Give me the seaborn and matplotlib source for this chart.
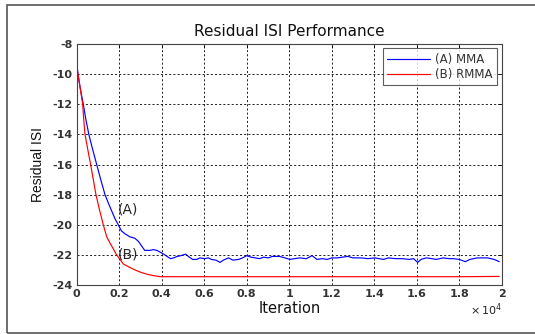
import matplotlib
matplotlib.use("Agg")
import matplotlib.pyplot as plt
import seaborn as sns
import pandas as pd
from matplotlib.ticker import FuncFormatter
from matplotlib.patches import Rectangle

# ---- data ----
iter_mma = [0, 60, 150, 310, 430, 570, 750, 940, 1130, 1330, 1500, 1650, 1800,
            1955, 2100, 2270, 2500, 2740, 2900, 3050, 3200, 3450, 3600,
            3770, 3900, 4090, 4250, 4410, 4550, 4730, 4900, 5130, 5250, 5450, 5650,
            5800, 6010, 6200, 6330, 6550, 6740, 6900, 7140, 7350, 7620, 7800, 8000,
            8200, 8400, 8600, 8800, 9000, 9220, 9540, 9800, 10020, 10250, 10500,
            10800, 11070, 11300, 11550, 11790, 12000, 12270, 12500, 12750, 13000,
            13390, 13700, 14030, 14430, 14670, 15000, 15310, 15630, 15850, 16040,
            16200, 16440, 16700, 16920, 17240, 17500, 17720, 18000, 18280, 18500,
            18840, 19100, 19320, 19640, 19880]
isi_mma = [-9.2, -10.0, -10.8, -12.0, -13.0, -14.0, -15.0, -16.0, -17.0, -18.0,
           -18.6, -19.1, -19.6, -20.0, -20.4, -20.6, -20.8, -20.9, -21.1, -21.4,
           -21.7, -21.7, -21.65, -21.7, -21.8, -21.95, -22.1, -22.25, -22.2,
           -22.1, -22.05, -21.95, -22.1, -22.3, -22.3, -22.2, -22.25, -22.2, -22.3,
           -22.35, -22.5, -22.35, -22.2, -22.35, -22.3, -22.2, -22.05, -22.15, -22.2,
           -22.25, -22.15, -22.2, -22.1, -22.1, -22.2, -22.3, -22.25, -22.2, -22.25,
           -22.05, -22.3, -22.25, -22.3, -22.2, -22.2, -22.15, -22.1, -22.2, -22.2,
           -22.25, -22.2, -22.3, -22.2, -22.25, -22.25, -22.3, -22.25, -22.5, -22.3,
           -22.2, -22.25, -22.3, -22.2, -22.25, -22.25, -22.3, -22.45, -22.3, -22.2,
           -22.2, -22.2, -22.3, -22.45]

iter_rmma = [0, 60, 150, 280, 330, 390, 520, 655, 780, 905, 1070, 1250, 1410, 1600,
             1880, 2190, 2450, 2740, 3000, 3350, 3700, 3950, 4500, 6000, 8000,
             10000, 12000, 14000, 16000, 18000, 19880]
isi_rmma = [-9.5, -10.0, -10.8, -12.0, -13.0, -14.0, -15.0, -16.0, -17.0, -18.0,
            -19.0, -20.0, -20.8, -21.3, -22.0, -22.6, -22.8, -23.0, -23.15, -23.3,
            -23.4, -23.45, -23.45, -23.45, -23.45, -23.45, -23.45, -23.45, -23.45,
            -23.45, -23.43]

series_labels = ["(A) MMA", "(B) RMMA"]
x_ticks = [0, 0.2, 0.4, 0.6, 0.8, 1, 1.2, 1.4, 1.6, 1.8, 2]
y_ticks = [-8, -10, -12, -14, -16, -18, -20, -22, -24]

# ---- plot ----
sns.set_theme(style="white")
plt.rcParams['font.family'] = ['DejaVu Sans']

fig = plt.figure(figsize=(5.35, 3.34), dpi=100)
fig.patch.set_facecolor("white")
ax = fig.add_axes([0.1434, 0.1467, 0.7946, 0.7213])

df_a = pd.DataFrame({"x": [v / 1e4 for v in iter_mma], "y": isi_mma})
df_b = pd.DataFrame({"x": [v / 1e4 for v in iter_rmma], "y": isi_rmma})
sns.lineplot(data=df_a, x="x", y="y", ax=ax, color="#0000ff", lw=0.85,
             label=series_labels[0], estimator=None, sort=False)
sns.lineplot(data=df_b, x="x", y="y", ax=ax, color="#ff0000", lw=0.85,
             label=series_labels[1], estimator=None, sort=False)

ax.set_xlim(0, 2)
ax.set_ylim(-24, -8)
ax.set_xticks(x_ticks)
ax.set_yticks(y_ticks)
ax.xaxis.set_major_formatter(FuncFormatter(lambda v, p: f"{v:g}"))
ax.yaxis.set_major_formatter(FuncFormatter(lambda v, p: f"{v:g}"))
ax.tick_params(direction="in", length=3, width=0.6, top=True, right=True,
               labelsize=8, pad=3, colors="black")
for lab in ax.get_xticklabels() + ax.get_yticklabels():
    lab.set_fontweight("bold")
    lab.set_color("#333333")
ax.grid(True, color="black", linestyle=(0, (2.5, 2.5)), linewidth=0.6)
for s in ax.spines.values():
    s.set_color("#444444")
    s.set_linewidth(0.8)

ax.set_title("Residual ISI Performance", fontsize=11, pad=6, color="#111111")
ax.set_xlabel("Iteration", fontsize=10.5, labelpad=1, color="#111111")
ax.set_ylabel("Residual ISI", fontsize=10, labelpad=5, color="#111111",
              family=["Liberation Sans", "DejaVu Sans"])

ax.text(1.0, -0.07, r"$\times\,10^{4}$", transform=ax.transAxes, ha="right",
        va="top", fontsize=8)

ax.text(0.194, -19.0, "(A)", fontsize=10, ha="left", va="center")
ax.text(0.194, -21.95, "(B)", fontsize=10, ha="left", va="center")

leg = ax.legend(loc="upper right", fontsize=8.5, frameon=True, fancybox=False,
                borderpad=0.4, handlelength=3.6, handletextpad=0.4,
                labelspacing=0.15, borderaxespad=0,
                bbox_to_anchor=(0.988, 0.983))
leg.get_frame().set_edgecolor("#333333")
leg.get_frame().set_linewidth(0.8)
for t in leg.get_texts():
    t.set_color("#333333")

fig.patches.append(Rectangle((7 / 535, 1 / 334), 1.0, 328 / 334,
                             transform=fig.transFigure, fill=False,
                             edgecolor="#555555", linewidth=1.2))

fig.savefig("out.png", dpi=100)
